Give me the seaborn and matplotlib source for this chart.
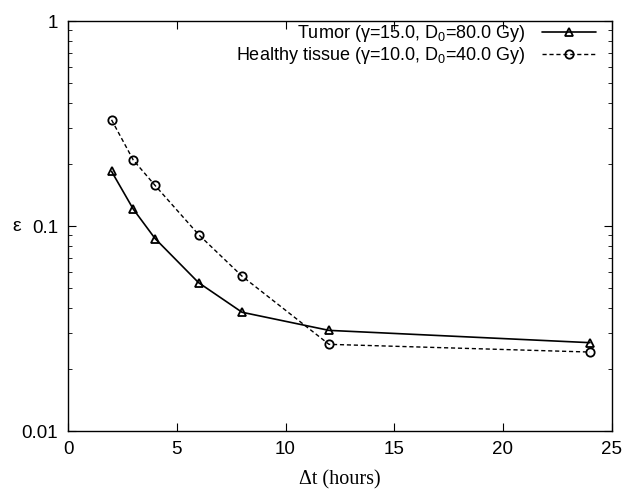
import numpy as np
import pandas as pd
import matplotlib
matplotlib.use('Agg')
import matplotlib.pyplot as plt
import seaborn as sns

# data
dt_hours = [2, 3, 4, 6, 8, 12, 24]
eps_tumor = [0.185, 0.121, 0.087, 0.053, 0.038, 0.031, 0.027]
eps_healthy = [0.33, 0.21, 0.158, 0.091, 0.057, 0.0265, 0.0243]

label_tumor = r'Tumor (γ=15.0, $\mathregular{D_0}$=80.0 Gy)'
label_healthy = r'Healthy tissue (γ=10.0, $\mathregular{D_0}$=40.0 Gy)'

sns.set_style("ticks", {'axes.edgecolor': 'black', 'text.color': 'black',
                        'xtick.color': 'black', 'ytick.color': 'black',
                        'axes.labelcolor': 'black'})
plt.rcParams['font.family'] = ['Liberation Sans', 'DejaVu Sans']
plt.rcParams['mathtext.default'] = 'regular'

df_t = pd.DataFrame({'dt': dt_hours, 'eps': eps_tumor})
df_h = pd.DataFrame({'dt': dt_hours, 'eps': eps_healthy})

fig = plt.figure(figsize=(6.3, 4.91), dpi=100)
ax = fig.add_axes([0.108, 0.122, 0.863, 0.835])

sns.lineplot(data=df_t, x='dt', y='eps', ax=ax, color='black', lw=1.2,
             marker='^', markersize=6, markerfacecolor='none',
             markeredgecolor='black', markeredgewidth=1.3, label=label_tumor)
sns.lineplot(data=df_h, x='dt', y='eps', ax=ax, color='black', lw=1.0,
             marker='o', markersize=6, markerfacecolor='none',
             markeredgecolor='black', markeredgewidth=1.3, label=label_healthy)
ax.lines[1].set_dashes((3, 2))

ax.set_yscale('log')
ax.set_xlim(0, 25)
ax.set_ylim(0.01, 1)
ax.set_xticks([0, 5, 10, 15, 20, 25])
ax.set_yticks([0.01, 0.1, 1])
ax.set_yticklabels(['0.01', '0.1', '1'])
ax.tick_params(which='both', direction='in', top=True, right=True,
               labelsize=13.5, pad=7, colors='black')
ax.tick_params(which='major', length=6)
ax.tick_params(which='minor', length=3)
ax.tick_params(axis='x', which='minor', bottom=False, top=False)
for s in ax.spines.values():
    s.set_linewidth(1.0)
    s.set_color('black')
    s.set_visible(True)

ax.set_xlabel('Δt (hours)', fontsize=14.5, family=['Liberation Serif', 'DejaVu Serif'],
              labelpad=9)
ax.set_ylabel('ε', fontsize=14, rotation=0, va='center', ha='center')
ax.yaxis.set_label_coords(-0.094, 0.5)

leg = ax.legend(loc='upper right', bbox_to_anchor=(0.975, 1.0),
                frameon=False, markerfirst=False,
                fontsize=13, handlelength=3.0, handletextpad=0.9,
                labelspacing=0.08, borderaxespad=0.0, borderpad=0.1)

plt.savefig('out.png', dpi=100)
plt.close()
